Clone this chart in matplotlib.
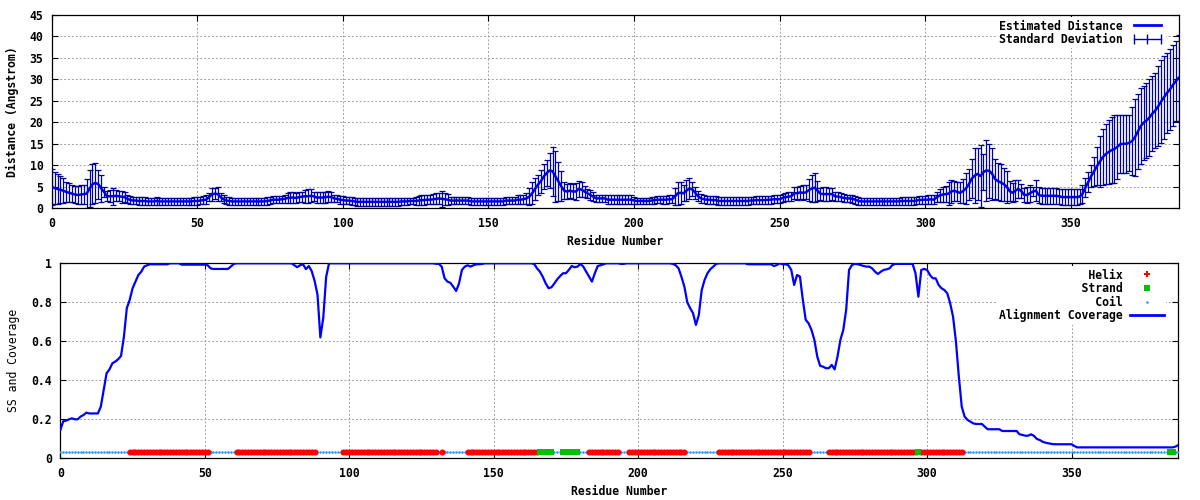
import matplotlib
matplotlib.use('Agg')
import matplotlib.pyplot as plt
from matplotlib.lines import Line2D
from matplotlib.ticker import FormatStrFormatter
import numpy as np

# gnuplot-like look: bold monospace everywhere
plt.rcParams['font.family'] = ['DejaVu Sans Mono', 'DejaVu Sans']
plt.rcParams['font.size'] = 8.3
plt.rcParams['font.weight'] = 'bold'

# Estimated distance per residue (residues 0..387)
distance = [
    5.0, 4.7, 4.5, 4.3, 4.1, 3.8, 3.6, 3.4, 3.2, 3.1,
    3.2, 3.3, 3.4, 4.6, 5.6, 5.9, 5.6, 4.6, 3.8, 2.8,
    2.8, 2.8, 2.9, 2.8, 2.7, 2.6, 2.2, 1.9, 1.8, 1.8,
    1.7, 1.7, 1.7, 1.6, 1.6, 1.6, 1.7, 1.6, 1.6, 1.6,
    1.6, 1.6, 1.6, 1.6, 1.6, 1.6, 1.6, 1.6, 1.6, 1.7,
    1.7, 1.8, 1.9, 2.0, 2.6, 3.2, 3.4, 3.3, 2.6, 2.1,
    1.8, 1.7, 1.6, 1.6, 1.6, 1.6, 1.6, 1.6, 1.6, 1.6,
    1.6, 1.6, 1.6, 1.6, 1.7, 1.8, 2.0, 2.0, 2.0, 2.1,
    2.2, 2.4, 2.5, 2.5, 2.4, 2.6, 2.7, 2.8, 2.8, 2.9,
    2.8, 2.5, 2.5, 2.5, 2.6, 2.7, 2.6, 2.3, 2.2, 2.0,
    1.9, 1.8, 1.8, 1.7, 1.6, 1.5, 1.5, 1.5, 1.5, 1.5,
    1.5, 1.5, 1.5, 1.5, 1.5, 1.5, 1.5, 1.5, 1.5, 1.5,
    1.6, 1.6, 1.6, 1.7, 1.7, 1.7, 1.8, 1.9, 1.9, 2.0,
    2.0, 2.1, 2.2, 2.3, 2.2, 2.1, 2.0, 1.8, 1.8, 1.8,
    1.8, 1.8, 1.8, 1.8, 1.6, 1.6, 1.6, 1.6, 1.6, 1.6,
    1.6, 1.6, 1.6, 1.6, 1.6, 1.6, 1.8, 1.8, 1.8, 1.8,
    2.0, 2.0, 2.1, 2.3, 2.7, 3.5, 4.5, 5.5, 6.3, 7.4,
    8.2, 8.8, 8.6, 7.4, 6.3, 5.1, 4.1, 3.9, 4.1, 3.9,
    3.9, 4.5, 4.3, 3.9, 3.5, 3.1, 2.7, 2.3, 2.3, 2.3,
    2.3, 2.0, 2.0, 2.0, 2.0, 2.0, 2.0, 2.0, 2.0, 2.0,
    1.8, 1.7, 1.7, 1.7, 1.7, 1.7, 1.8, 1.9, 2.0, 2.0,
    2.0, 2.0, 2.1, 2.1, 2.7, 3.5, 3.6, 3.5, 4.1, 4.6,
    4.4, 3.6, 2.8, 2.3, 2.1, 2.0, 2.0, 1.9, 1.9, 1.7,
    1.7, 1.7, 1.7, 1.7, 1.7, 1.7, 1.7, 1.7, 1.7, 1.7,
    1.8, 1.8, 1.9, 1.9, 1.9, 1.9, 2.0, 2.0, 2.1, 2.1,
    2.1, 2.4, 2.6, 2.7, 2.8, 3.5, 3.5, 3.7, 3.6, 3.7,
    4.2, 4.6, 4.8, 4.1, 3.4, 3.3, 3.3, 3.3, 3.3, 2.8,
    2.7, 2.6, 2.4, 2.3, 2.3, 2.2, 2.0, 1.7, 1.6, 1.6,
    1.6, 1.6, 1.6, 1.6, 1.6, 1.6, 1.6, 1.6, 1.6, 1.6,
    1.6, 1.6, 1.7, 1.7, 1.7, 1.7, 1.7, 1.8, 1.9, 2.0,
    2.0, 2.0, 2.1, 2.0, 2.6, 3.0, 3.2, 3.3, 3.4, 3.9,
    4.1, 3.8, 3.6, 4.0, 4.6, 5.6, 6.9, 7.6, 8.0, 7.5,
    8.4, 8.8, 8.7, 8.0, 6.8, 6.3, 6.0, 5.6, 5.0, 4.0,
    3.6, 4.1, 4.5, 4.0, 3.1, 3.1, 3.5, 3.9, 4.1, 3.1,
    2.9, 2.9, 2.9, 2.9, 2.9, 2.9, 2.8, 2.6, 2.6, 2.6,
    2.6, 2.6, 2.6, 2.7, 3.3, 4.8, 6.1, 7.5, 8.6, 9.8,
    10.9, 11.9, 12.6, 13.1, 13.5, 13.8, 14.3, 14.9, 15.0, 15.0,
    15.2, 15.6, 16.5, 17.8, 19.1, 19.9, 20.4, 21.1, 22.0, 22.7,
    23.7, 24.8, 25.8, 26.8, 27.6, 28.6, 29.5, 30.3,
]

# Standard deviation per residue
std_dev = [
    4.2, 3.7, 3.4, 3.1, 2.9, 2.4, 2.2, 2.0, 1.9, 2.0,
    2.2, 2.2, 3.4, 4.3, 4.6, 4.6, 3.4, 3.2, 1.2, 1.2,
    1.4, 2.0, 1.3, 1.2, 1.4, 1.1, 1.0, 0.9, 0.9, 0.9,
    0.9, 0.9, 0.9, 0.9, 0.9, 0.9, 0.9, 0.9, 0.9, 0.9,
    0.9, 0.9, 0.9, 0.9, 0.9, 0.9, 0.9, 0.9, 0.9, 0.9,
    0.9, 0.9, 0.9, 1.0, 0.9, 1.6, 1.3, 1.6, 1.0, 0.9,
    0.9, 0.9, 0.9, 0.9, 0.9, 0.9, 0.9, 0.9, 0.9, 0.9,
    0.9, 0.9, 0.9, 0.9, 0.9, 0.9, 0.8, 0.8, 0.8, 0.8,
    0.9, 1.1, 1.2, 1.2, 1.1, 1.2, 1.2, 1.5, 1.6, 1.5,
    1.0, 1.2, 1.3, 1.2, 1.3, 1.3, 1.2, 0.8, 0.8, 0.9,
    0.9, 0.9, 0.9, 0.9, 0.9, 0.9, 0.9, 0.9, 0.9, 0.9,
    0.9, 0.9, 0.9, 0.9, 0.9, 0.9, 0.9, 0.9, 0.9, 0.9,
    0.9, 0.9, 0.9, 0.8, 0.8, 0.9, 1.0, 1.1, 1.1, 1.0,
    1.0, 1.2, 1.3, 1.3, 1.9, 1.4, 1.3, 0.9, 0.9, 0.9,
    0.9, 0.9, 0.9, 0.9, 0.9, 0.9, 0.9, 0.9, 0.9, 0.9,
    0.9, 0.9, 0.9, 0.9, 0.9, 0.9, 0.9, 0.9, 0.9, 0.9,
    1.0, 1.1, 1.0, 1.3, 2.0, 2.5, 2.5, 2.3, 2.7, 3.0,
    3.0, 4.1, 5.7, 5.9, 4.5, 3.5, 1.9, 1.8, 1.8, 1.7,
    2.0, 1.9, 1.7, 1.2, 1.0, 1.1, 1.0, 0.8, 0.8, 0.8,
    0.8, 1.0, 1.0, 1.0, 1.0, 1.0, 1.0, 1.0, 1.0, 1.0,
    0.8, 0.8, 0.8, 0.8, 0.8, 0.8, 0.8, 0.8, 0.8, 0.8,
    0.9, 0.9, 0.9, 0.9, 2.0, 2.7, 2.6, 1.9, 2.4, 2.5,
    1.6, 1.4, 1.2, 1.0, 0.9, 0.9, 0.9, 0.9, 0.9, 0.9,
    0.9, 0.9, 0.9, 0.9, 0.9, 0.9, 0.9, 0.9, 0.9, 0.9,
    0.9, 0.9, 0.9, 0.9, 0.9, 0.9, 0.9, 0.9, 0.9, 0.9,
    0.9, 0.9, 0.9, 1.0, 1.0, 1.4, 1.5, 1.5, 1.7, 1.6,
    2.5, 3.1, 3.3, 2.3, 1.4, 1.6, 1.6, 1.5, 1.4, 1.1,
    1.1, 1.0, 1.0, 0.9, 0.9, 0.9, 0.9, 0.9, 0.9, 0.9,
    0.9, 0.9, 0.9, 0.9, 0.9, 0.9, 0.9, 0.9, 0.9, 0.9,
    0.9, 0.9, 0.9, 0.9, 0.9, 0.9, 0.9, 0.9, 0.9, 0.9,
    0.9, 1.0, 1.1, 1.0, 1.1, 1.6, 1.8, 1.8, 2.6, 2.6,
    2.3, 2.2, 2.4, 2.8, 3.6, 3.6, 4.6, 6.4, 6.0, 7.2,
    4.2, 7.1, 6.3, 6.0, 4.6, 4.3, 4.4, 3.8, 3.7, 2.4,
    2.2, 2.4, 2.1, 1.6, 1.6, 1.9, 2.0, 1.0, 2.5, 1.9,
    1.8, 1.8, 1.8, 1.8, 1.8, 1.8, 1.8, 1.8, 1.8, 1.8,
    1.8, 1.8, 1.8, 1.8, 2.0, 2.2, 2.4, 2.5, 3.4, 4.5,
    5.9, 6.6, 7.0, 7.4, 7.7, 7.9, 7.4, 6.8, 6.7, 6.7,
    6.6, 7.9, 9.0, 8.7, 8.8, 8.6, 8.8, 8.9, 8.7, 8.8,
    9.3, 9.7, 9.7, 9.3, 9.4, 9.4, 9.3, 10.0,
]

# Alignment coverage per residue
coverage = [
    0.145, 0.19, 0.193, 0.2, 0.205, 0.2, 0.2, 0.214, 0.222, 0.234,
    0.23, 0.23, 0.23, 0.23, 0.265, 0.35, 0.436, 0.456, 0.487, 0.496,
    0.508, 0.525, 0.624, 0.77, 0.812, 0.872, 0.906, 0.94, 0.957, 0.983,
    0.99, 0.995, 0.995, 0.995, 0.995, 0.995, 0.995, 0.995, 1.0, 1.0,
    1.0, 1.0, 0.993, 0.993, 0.993, 0.993, 0.993, 0.993, 0.993, 0.993,
    0.993, 0.99, 0.974, 0.971, 0.971, 0.971, 0.971, 0.971, 0.971, 0.983,
    0.997, 1.0, 1.0, 1.0, 1.0, 1.0, 1.0, 1.0, 1.0, 1.0,
    1.0, 1.0, 1.0, 1.0, 1.0, 1.0, 1.0, 1.0, 1.0, 1.0,
    1.0, 0.99, 0.98, 0.99, 0.995, 0.97, 0.986, 0.96, 0.91, 0.84,
    0.62, 0.72, 0.93, 1.0, 1.0, 1.0, 1.0, 1.0, 1.0, 1.0,
    1.0, 1.0, 1.0, 1.0, 1.0, 1.0, 1.0, 1.0, 1.0, 1.0,
    1.0, 1.0, 1.0, 1.0, 1.0, 1.0, 1.0, 1.0, 1.0, 1.0,
    1.0, 1.0, 1.0, 1.0, 1.0, 1.0, 1.0, 1.0, 1.0, 1.0,
    0.997, 0.997, 0.983, 0.923, 0.906, 0.9, 0.88, 0.858, 0.897, 0.966,
    0.983, 0.99, 0.983, 0.99, 0.995, 0.995, 0.997, 1.0, 1.0, 1.0,
    1.0, 1.0, 1.0, 1.0, 1.0, 1.0, 1.0, 1.0, 1.0, 1.0,
    1.0, 1.0, 1.0, 1.0, 0.997, 0.974, 0.957, 0.93, 0.897, 0.872,
    0.877, 0.897, 0.918, 0.935, 0.949, 0.949, 0.966, 0.986, 0.98, 0.983,
    0.997, 0.983, 0.957, 0.93, 0.906, 0.949, 0.986, 0.99, 0.995, 1.0,
    1.0, 1.0, 1.0, 1.0, 0.997, 0.997, 1.0, 1.0, 1.0, 1.0,
    1.0, 1.0, 1.0, 1.0, 1.0, 1.0, 1.0, 1.0, 1.0, 1.0,
    1.0, 1.0, 0.997, 0.99, 0.974, 0.93, 0.88, 0.8, 0.77, 0.744,
    0.684, 0.735, 0.863, 0.915, 0.949, 0.97, 0.983, 0.997, 1.0, 1.0,
    1.0, 1.0, 1.0, 1.0, 1.0, 1.0, 1.0, 1.0, 0.995, 0.995,
    0.995, 0.995, 0.995, 0.995, 0.995, 0.995, 0.995, 0.986, 0.991, 1.0,
    0.995, 0.995, 0.99, 0.966, 0.889, 0.94, 0.932, 0.812, 0.71, 0.692,
    0.658, 0.607, 0.521, 0.474, 0.47, 0.462, 0.462, 0.479, 0.456, 0.521,
    0.607, 0.658, 0.761, 0.966, 0.991, 0.997, 0.995, 0.991, 0.986, 0.983,
    0.983, 0.974, 0.957, 0.945, 0.957, 0.966, 0.969, 0.974, 0.991, 0.997,
    0.997, 0.997, 0.997, 0.997, 0.997, 0.997, 0.949, 0.829, 0.966, 0.971,
    0.966, 0.94, 0.923, 0.923, 0.889, 0.872, 0.863, 0.846, 0.795, 0.726,
    0.598, 0.419, 0.265, 0.214, 0.197, 0.188, 0.179, 0.176, 0.176, 0.176,
    0.162, 0.149, 0.149, 0.149, 0.149, 0.149, 0.14, 0.14, 0.14, 0.14,
    0.14, 0.14, 0.123, 0.12, 0.116, 0.116, 0.123, 0.115, 0.099, 0.094,
    0.085, 0.08, 0.077, 0.074, 0.072, 0.072, 0.072, 0.072, 0.072, 0.072,
    0.072, 0.063, 0.056, 0.056, 0.056, 0.056, 0.056, 0.056, 0.056, 0.056,
    0.056, 0.056, 0.056, 0.056, 0.056, 0.056, 0.056, 0.056, 0.056, 0.056,
    0.056, 0.056, 0.056, 0.056, 0.056, 0.056, 0.056, 0.056, 0.056, 0.056,
    0.056, 0.056, 0.056, 0.056, 0.056, 0.056, 0.06, 0.068,
]

# Secondary structure segments (first, last residue)
helix_segments = [(24, 51), (61, 88), (98, 130), (132, 132), (141, 165),
                  (183, 193), (197, 216), (228, 259), (266, 296), (298, 312)]
strand_segments = [(166, 170), (174, 179), (297, 297), (384, 385)]
ss_level = 0.03  # height at which the SS track is drawn

residues = np.arange(len(distance))

# build per-residue SS assignment
ss = np.array(['C'] * len(residues))
for a, b in helix_segments:
    ss[(residues >= a) & (residues <= b)] = 'H'
for a, b in strand_segments:
    ss[(residues >= a) & (residues <= b)] = 'E'

fig = plt.figure(figsize=(12, 5), dpi=100)
ax1 = fig.add_axes([0.0431, 0.5834, 0.939, 0.3872])
ax2 = fig.add_axes([0.0503, 0.0834, 0.9317, 0.39])


def style_axes(ax):
    ax.grid(True, color='#a0a0a0', linestyle=(0, (2, 2)), linewidth=0.7)
    ax.set_axisbelow(True)
    ax.tick_params(direction='in', length=4, width=0.8, top=True, right=True,
                   pad=6, labelsize=8.3)
    for s in ax.spines.values():
        s.set_linewidth(0.9)
    ax.set_xlim(0, 387)
    ax.set_xticks(range(0, 351, 50))


# ---- top: distance with std dev ----
style_axes(ax1)
ax1.errorbar(residues, distance, yerr=std_dev, fmt='none', ecolor='#00009c',
             elinewidth=0.9, capsize=2, capthick=0.9, zorder=2)
ax1.plot(residues, distance, color='#0000e6', lw=1.8, zorder=3)
ax1.set_ylim(0, 45)
ax1.set_yticks(range(0, 46, 5))
ax1.set_xlabel('Residue Number', fontweight='bold')
ax1.set_ylabel('Distance (Angstrom)', fontweight='bold')
ax1.xaxis.set_label_coords(0.5, -0.138)
ax1.yaxis.set_label_coords(-0.029, 0.5)

h_dist = Line2D([], [], color='#0000ff', lw=2)
h_sd = Line2D([], [], color='#00009c', lw=1, marker='|', markersize=7, markeredgewidth=1)
ax1.legend([h_dist, h_sd], ['Estimated Distance', 'Standard Deviation'],
           loc='upper right', bbox_to_anchor=(0.9893, 0.987), markerfirst=False,
           numpoints=3, frameon=True, facecolor='white', edgecolor='none',
           framealpha=1, fancybox=False, handlelength=2.95, handletextpad=0.63,
           labelspacing=0.05, borderpad=0.2, borderaxespad=0,
           prop={'weight': 'bold', 'size': 8.3})

# ---- bottom: SS and coverage ----
style_axes(ax2)
coil = ss == 'C'
helix = ss == 'H'
strand = ss == 'E'
ax2.plot(residues[coil], np.full(coil.sum(), ss_level), ls='none', marker='.',
         ms=1.6, color='#1e90ff', zorder=3)
ax2.plot(residues[helix], np.full(helix.sum(), ss_level), ls='none', marker='o',
         ms=4.4, color='#ff0000', mew=0, zorder=4)
ax2.plot(residues[strand], np.full(strand.sum(), ss_level), ls='none', marker='s',
         ms=4.6, color='#00c000', mew=0, zorder=4)
ax2.plot(residues, coverage, color='#0000ff', lw=1.6, zorder=5)
ax2.set_ylim(0, 1)
ax2.set_yticks([0, 0.2, 0.4, 0.6, 0.8, 1.0])
ax2.yaxis.set_major_formatter(FormatStrFormatter('%g'))
ax2.set_xlabel('Residue Number', fontweight='bold')
ax2.set_ylabel('SS and Coverage', fontweight='normal')
ax2.xaxis.set_label_coords(0.5, -0.137)
ax2.yaxis.set_label_coords(-0.036, 0.5)

h_helix = Line2D([], [], ls='none', marker='P', ms=5, color='#ff0000', mew=0)
h_strand = Line2D([], [], ls='none', marker='s', ms=4.6, color='#00c000', mew=0)
h_coil = Line2D([], [], ls='none', marker='.', ms=1.6, color='#1e90ff')
h_cov = Line2D([], [], color='#0000ff', lw=2)
labels = ['Helix', 'Strand', 'Coil', 'Alignment Coverage']
width = max(len(s) for s in labels)
ax2.legend([h_helix, h_strand, h_coil, h_cov], [s.rjust(width) for s in labels],
           loc='upper right', bbox_to_anchor=(0.9893, 0.985), markerfirst=False,
           numpoints=1, frameon=True, facecolor='white', edgecolor='none',
           framealpha=1, fancybox=False, handlelength=2.95, handletextpad=0.63,
           labelspacing=0.05, borderpad=0.2, borderaxespad=0,
           prop={'weight': 'bold', 'size': 8.3})

for ax in (ax1, ax2):
    for lbl in ax.get_xticklabels() + ax.get_yticklabels():
        lbl.set_fontweight('bold')

fig.savefig('out.png', dpi=100)
